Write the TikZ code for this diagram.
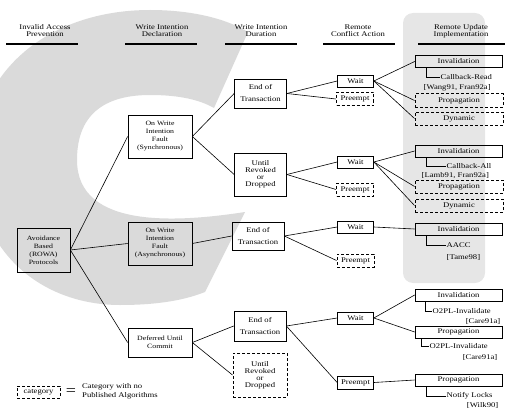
\documentclass[tikz,border=0pt]{standalone}
\usepackage{fontspec}
\newfontfamily\diafont[FakeStretch=1.2]{Liberation Serif}
\newcommand\hdfont{\diafont\fontsize{7.2}{7}\selectfont}
\newcommand\catfont{\diafont\fontsize{7.2}{12}\selectfont}
\newcommand\tightfont{\diafont\fontsize{7.2}{7}\selectfont}
\newcommand\smallcat{\diafont\fontsize{6.5}{8}\selectfont}
\newcommand\reffont{\diafont\fontsize{7.2}{10}\selectfont}
\definecolor{watermark}{RGB}{218,218,218}
\definecolor{stripgray}{RGB}{230,230,230}

\begin{document}
\begin{tikzpicture}[x=1pt,y=-1pt,
  cat/.style={draw,line width=0.7pt,inner sep=0pt,align=center,font=\catfont},
  nopub/.style={cat,line width=1pt,dash pattern=on 3pt off 2pt},
  head/.style={inner sep=0pt,align=center,font=\hdfont},
  ref/.style={inner sep=0.5pt,font=\reffont},
  link/.style={line width=0.6pt}]
\useasboundingbox (0,0) rectangle (505,409);
% background: the big C and the shaded last column
\fill[watermark] (248,32) -- (214,108) .. controls (200,100) and (180,95) .. (150,95)
  .. controls (110,95) and (77,110) .. (77,160) .. controls (77,230) and (180,222) .. (245,212)
  -- (205,292) .. controls (180,302) and (150,305) .. (120,305)
  .. controls (40,305) and (-25,250) .. (-25,160) .. controls (-25,70) and (50,10) .. (150,10)
  .. controls (190,10) and (225,18) .. cycle;
\fill[stripgray,rounded corners=10pt] (403,13) rectangle (485,283);
% column headings
\foreach [count=\i] \x/\l/\r/\t in {45/6/78/{Invalid Access\\Prevention},
    162/125/197/{Write Intention\\Declaration}, 261/225/297/{Write Intention\\Duration},
    358/323/395/{Remote\\Conflict Action}, 461/418/505/{Remote Update\\Implementation}}{
  \node[head] (h\i) at (\x,31) {\t};
  \draw[line width=1.6pt] (\l,44) -- (\r,44);
}
% first three levels
\node[cat,minimum width=53,minimum height=44,font=\smallcat] (avoid) at (43.5,250)
  {Avoidance\\Based\\(ROWA)\\Protocols};
\node[cat,minimum width=64,minimum height=43,font=\smallcat] (sync) at (160,136.5)
  {On Write\\Intention\\Fault\\(Synchronous)};
\node[cat,minimum width=64,minimum height=43,font=\smallcat] (async) at (160,243.5)
  {On Write\\Intention\\Fault\\(Asynchronous)};
\node[cat,minimum width=64,minimum height=29,font=\smallcat] (defer) at (160,342.5)
  {Deferred Until\\Commit};
\node[cat,minimum width=52,minimum height=29] (end1) at (260.5,93.5) {End of\\Transaction};
\node[cat,minimum width=52,minimum height=43,font=\tightfont] (until1) at (260.5,174.5)
  {Until\\Revoked\\or\\Dropped};
\node[cat,minimum width=52,minimum height=28] (end2) at (258,236) {End of\\Transaction};
\node[cat,minimum width=52,minimum height=30] (end3) at (260,326) {End of\\Transaction};
\node[nopub,minimum width=54,minimum height=44,font=\tightfont] (until3) at (260,375)
  {Until\\Revoked\\or\\Dropped};
% remote conflict action
\node[cat,minimum width=36,minimum height=12] (wait1) at (355.5,81) {Wait};
\node[nopub,minimum width=37,minimum height=13] (pre1) at (355,99) {Preempt};
\node[cat,minimum width=36,minimum height=12] (wait2) at (355.5,162) {Wait};
\node[nopub,minimum width=37,minimum height=13] (pre2) at (355,189.5) {Preempt};
\node[cat,minimum width=36,minimum height=12] (wait3) at (355.5,227) {Wait};
\node[nopub,minimum width=37,minimum height=13] (pre3) at (355.5,260.5) {Preempt};
\node[cat,minimum width=36,minimum height=12] (wait4) at (355.5,318) {Wait};
\node[cat,minimum width=36,minimum height=13] (pre4) at (355.5,382.5) {Preempt};
% remote update implementation
\node[cat,minimum width=87,minimum height=12] (inv1) at (458.5,61.5) {Invalidation};
\node[nopub,minimum width=88,minimum height=13] (prop1) at (459,100.5) {Propagation};
\node[nopub,minimum width=88,minimum height=13] (dyn1) at (459,118.5) {Dynamic};
\node[cat,minimum width=87,minimum height=12] (inv2) at (458.5,151) {Invalidation};
\node[nopub,minimum width=88,minimum height=13] (prop2) at (459,186.5) {Propagation};
\node[nopub,minimum width=88,minimum height=13] (dyn2) at (459,205.5) {Dynamic};
\node[cat,minimum width=87,minimum height=12] (inv3) at (458.5,229) {Invalidation};
\node[cat,minimum width=87,minimum height=12] (inv4) at (458.5,295) {Invalidation};
\node[cat,minimum width=87,minimum height=12] (prop4) at (458.5,332) {Propagation};
\node[cat,minimum width=87,minimum height=12] (prop5) at (458.5,380) {Propagation};
% published algorithms
\node[ref,anchor=west] (cbread) at (440,77.5) {Callback-Read};
\node[ref,anchor=west] (cbreadr) at (423,88) {[Wang91, Fran92a]};
\node[ref,anchor=west] (cball) at (446,166) {Callback-All};
\node[ref,anchor=west] (cballr) at (421,175.5) {[Lamb91, Fran92a]};
\node[ref,anchor=west] (aacc) at (446,245) {AACC};
\node[ref,anchor=west] (aaccr) at (446,257.5) {[Tame98]};
\node[ref,anchor=west] (otpli) at (432,311) {O2PL-Invalidate};
\node[ref,anchor=east] (otplir) at (501,321) {[Care91a]};
\node[ref,anchor=west] (otplp) at (429,346) {O2PL-Invalidate};
\node[ref,anchor=east] (otplpr) at (498,357) {[Care91a]};
\node[ref,anchor=west] (notify) at (446,396) {Notify Locks};
\node[ref,anchor=east] (notifyr) at (499,405) {[Wilk90]};
\draw[link] ([xshift=12pt]inv1.south west) |- (cbread.west);
\draw[link] ([xshift=12pt]inv2.south west) |- (cball.west);
\draw[link] ([xshift=12pt]inv3.south west) |- (aacc.west);
\draw[link] ([xshift=11pt]inv4.south west) |- (otpli.west);
\draw[link] ([xshift=7pt]prop4.south west) |- (otplp.west);
\draw[link] ([xshift=12pt]prop5.south west) |- (notify.west);
% tree connectors
\foreach \a/\b in {avoid/sync,avoid/async,avoid/defer,sync/end1,sync/until1,async/end2,
    defer/end3,defer/until3,end1/wait1,end1/pre1,until1/wait2,until1/pre2,end2/wait3,
    end2/pre3,end3/wait4,end3/pre4,wait1/inv1,wait1/prop1,wait1/dyn1,wait2/inv2,
    wait2/prop2,wait2/dyn2,wait3/inv3,wait4/inv4,wait4/prop4,pre4/prop5}
  \draw[link] (\a.east) -- (\b.west);
% legend
\node[nopub,minimum width=43,minimum height=12] (legbox) at (38.5,392) {category};
\node[inner sep=0pt,font=\diafont\fontsize{15}{15}\selectfont] (legeq) at (71,392.5) {=};
\node[head,anchor=west] (legtxt1) at (82,387) {Category with no};
\node[head,anchor=west] (legtxt2) at (82,395.5) {Published Algorithms};
\end{tikzpicture}
\end{document}
